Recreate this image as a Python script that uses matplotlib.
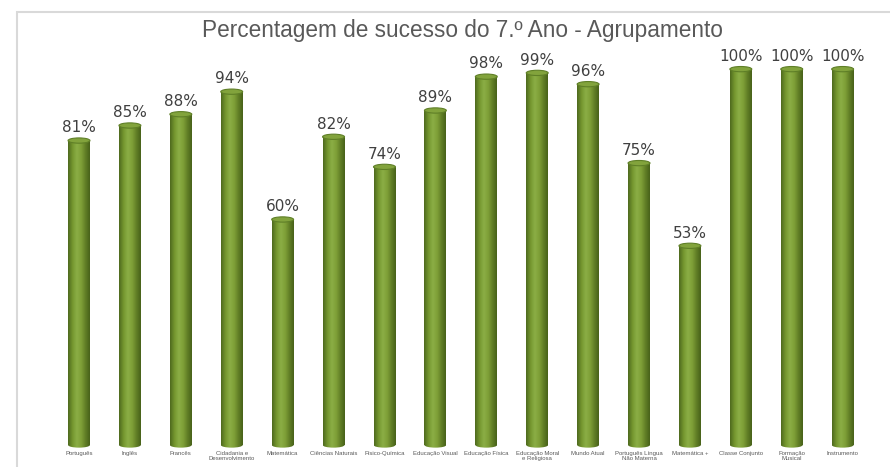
import numpy as np
import matplotlib
matplotlib.use("Agg")
import matplotlib.pyplot as plt
from matplotlib.patches import Ellipse, Rectangle
from matplotlib.colors import LinearSegmentedColormap

categories = ["Português", "Inglês", "Francês", "Cidadania e\nDesenvolvimento",
              "Matemática", "Ciências Naturais", "Físico-Química", "Educação Visual",
              "Educação Física", "Educação Moral\ne Religiosa", "Mundo Atual",
              "Português Língua\nNão Materna", "Matemática +", "Classe Conjunto",
              "Formação\nMusical", "Instrumento"]
values = [81, 85, 88, 94, 60, 82, 74, 89, 98, 99, 96, 75, 53, 100, 100, 100]
labels = [f"{v}%" for v in values]

W, H = 890, 467
fig = plt.figure(figsize=(W / 100, H / 100), dpi=100)
fig.patch.set_facecolor("white")

# chart border (left & top visible, continues past edges)
fig.add_artist(Rectangle((17 / W, -0.1), 1.2, (H - 12) / H + 0.1,
                         transform=fig.transFigure, fill=False,
                         edgecolor="#d9d9d9", linewidth=1.5))

ax = fig.add_axes([17 / W, 0, (W - 17) / W, (H - 12) / H])
ax.set_xlim(-1.218, 15.93)
ax.set_ylim(-5.85, 115.2)
ax.axis("off")

x = np.arange(len(values))
bw = 0.43
cmap = LinearSegmentedColormap.from_list(
    "cyl", ["#4e6a1e", "#74962f", "#8bae45", "#7fa038", "#627f27", "#48621a"])
grad = np.linspace(0, 1, 64).reshape(1, -1)

bars = ax.bar(x, values, width=bw, color="none", edgecolor="none", zorder=2)
eh = 1.4
for xi, v, b, lab in zip(x, values, bars, labels):
    be2 = Ellipse((xi, 0), bw, eh, facecolor="none", edgecolor="none", zorder=2)
    ax.add_patch(be2)
    im2 = ax.imshow(grad, cmap=cmap, aspect="auto",
                    extent=(xi - bw / 2, xi + bw / 2, -eh / 2, 0.1), zorder=2,
                    interpolation="bilinear")
    im2.set_clip_path(be2)
    im = ax.imshow(grad, cmap=cmap, aspect="auto",
                   extent=(xi - bw / 2, xi + bw / 2, 0, v), zorder=2,
                   interpolation="bilinear")
    im.set_clip_path(b)
    top = Ellipse((xi, v), bw, eh, facecolor="#82a33c", edgecolor="#5f7f27",
                  linewidth=0.8, zorder=3)
    ax.add_patch(top)
    ax.text(xi, v + 2.2, lab, ha="center", va="baseline", fontsize=11,
            color="#404040", family="DejaVu Sans", zorder=4)

for xi, c in zip(x, categories):
    ax.text(xi, -1.6, c, ha="center", va="top", fontsize=4.3, color="#595959",
            family="Liberation Sans", linespacing=1.1)

fig.text(462 / W, 1 - 31 / H, "Percentagem de sucesso do 7.º Ano - Agrupamento",
         ha="center", va="center", fontsize=16.3, color="#595959",
         family="Liberation Sans")

fig.savefig("out.png", dpi=100)
